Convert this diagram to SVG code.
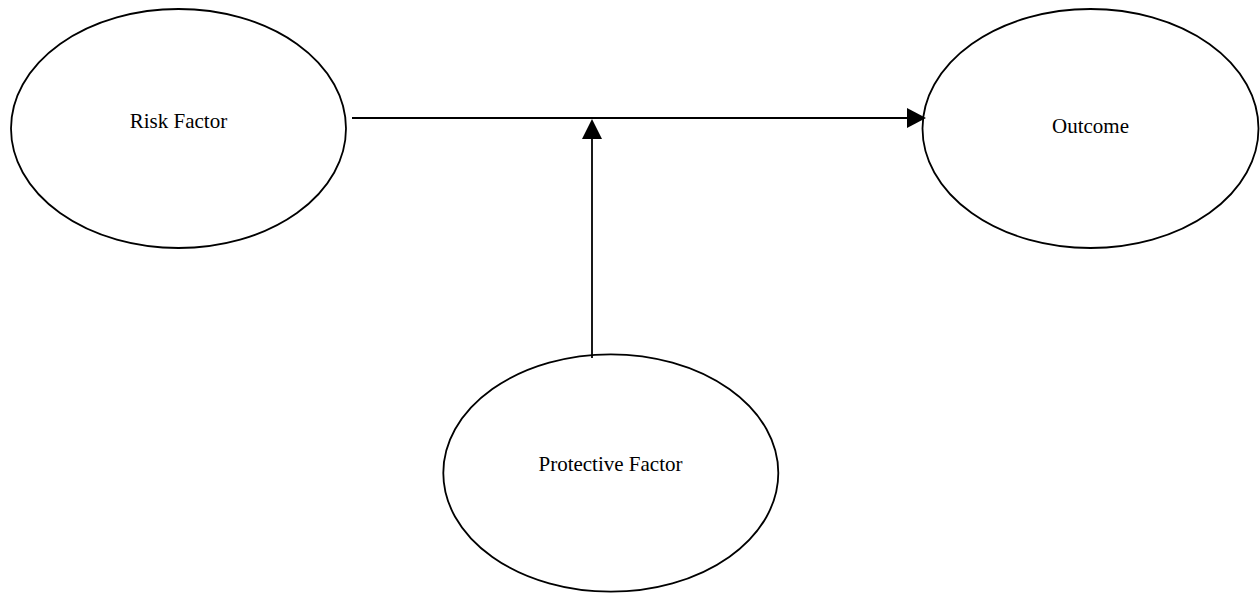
<svg xmlns="http://www.w3.org/2000/svg" width="1260" height="594" viewBox="0 0 1260 594">
  <style>
    .node ellipse { fill: #ffffff; stroke: #000000; stroke-width: 1.8; }
    .node text { font-family: "Liberation Serif", "Times New Roman", serif; font-size: 21px; fill: #000000; text-anchor: middle; }
    .edge { stroke: #000000; stroke-width: 1.8; fill: none; }
    .head { fill: #000000; stroke: none; }
  </style>
  <rect width="1260" height="594" fill="#ffffff"/>

  <g id="risk-factor" class="node">
    <ellipse cx="178.5" cy="128.5" rx="167.5" ry="119.5"/>
    <text x="178.5" y="128">Risk Factor</text>
  </g>

  <g id="outcome" class="node">
    <ellipse cx="1090.5" cy="128.5" rx="168" ry="119.5"/>
    <text x="1090.5" y="133">Outcome</text>
  </g>

  <g id="protective-factor" class="node">
    <ellipse cx="610.8" cy="473" rx="167.5" ry="118.7"/>
    <text x="610.5" y="471">Protective Factor</text>
  </g>

  <g id="connectors">
    <!-- Risk Factor to Outcome -->
    <line class="edge" x1="352" y1="118" x2="908" y2="118"/>
    <polygon class="head" points="926,118 907,108 907,128"/>
    <!-- Protective Factor moderating the path -->
    <line class="edge" x1="592" y1="358" x2="592" y2="138"/>
    <polygon class="head" points="592,119 582,139 602,139"/>
  </g>
</svg>
